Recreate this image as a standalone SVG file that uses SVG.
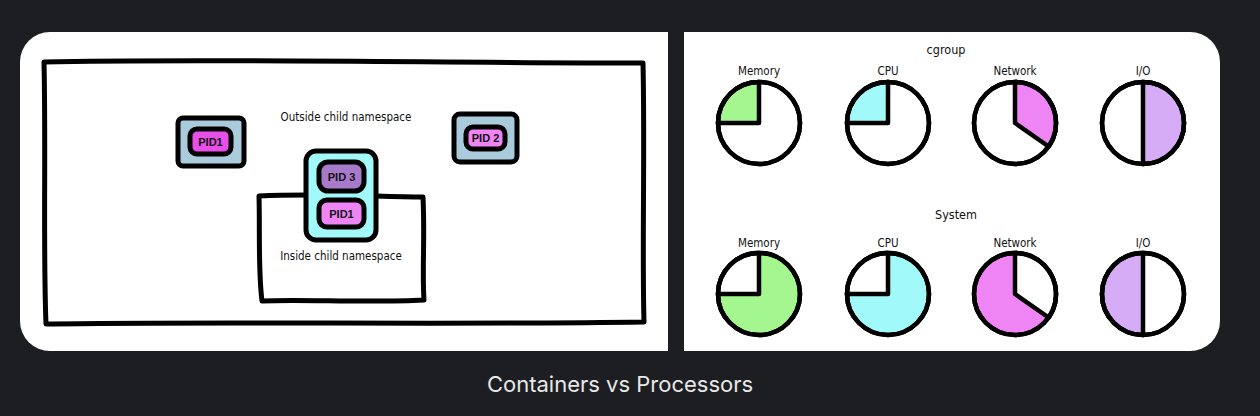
<svg xmlns="http://www.w3.org/2000/svg" width="1260" height="416" viewBox="0 0 1260 416">
<style>
.ink{fill:none;stroke:#000;stroke-width:5;stroke-linejoin:round;stroke-linecap:round}
.pie{stroke:#000;stroke-width:4.5;stroke-linejoin:round;stroke-linecap:round}
.hand{font-family:"DejaVu Sans Condensed","DejaVu Sans",sans-serif;font-stretch:condensed;font-size:11.5px;fill:#111;text-anchor:middle}
.pid{font-family:"Liberation Sans",Arial,sans-serif;font-weight:bold;font-size:11px;fill:#111;text-anchor:middle}
.green{fill:#a4f78f}.cyan{fill:#a2f9f9}.mag{fill:#ef85f5}.purp{fill:#d7acf6}.white{fill:#fff}
</style>
<rect x="0" y="0" width="1260" height="416" fill="#1d1e22"/>
<rect x="20" y="32" width="1200" height="319" rx="30" fill="#fff"/>
<rect x="668" y="30" width="16" height="324" fill="#1d1e22"/>
<text x="620" y="392" font-family="Inter,'Liberation Sans',sans-serif" font-size="22" fill="#e8e8e8" text-anchor="middle">Containers vs Processors</text>

<g id="outside-namespace">
<path class="ink" d="M44,62 C200,58 450,63 643,63 C645,150 642,250 644,322 C450,325 200,321 46,324 C43,250 46,150 44,62 Z"/>
<text class="hand" x="346" y="121">Outside child namespace</text>
</g>
<g id="inside-namespace">
<path class="ink" fill="#fff" d="M259,196 C320,193 380,197 423,197 C425,240 422,270 424,300 C370,303 300,299 262,301 C258,270 260,230 259,196 Z"/>
<text class="hand" x="341" y="260">Inside child namespace</text>
</g>
<g id="pid1-outer">
<rect x="178" y="118" width="66" height="48" rx="5" class="ink" style="fill:#a9cbdc"/>
<rect x="190" y="129" width="41" height="25" rx="7" class="ink" style="fill:#e84ee8"/>
<text class="pid" x="210.5" y="145.5">PID1</text>
</g>
<g id="pid2">
<rect x="454" y="114" width="63" height="48" rx="6" class="ink" style="fill:#a9cbdc"/>
<rect x="466" y="127" width="39" height="22" rx="7" class="ink" style="fill:#ef85f5"/>
<text class="pid" x="485.5" y="142">PID 2</text>
</g>
<g id="container">
<rect x="306" y="151" width="70" height="89" rx="10" class="ink" style="fill:#a2f9f9"/>
<rect x="319" y="162" width="45" height="29" rx="9" class="ink" style="fill:#a77bca"/>
<text class="pid" x="341.5" y="180.5">PID 3</text>
<rect x="319" y="200" width="45" height="27" rx="8" class="ink" style="fill:#ef85f5"/>
<text class="pid" x="341.5" y="217.5">PID1</text>
</g>

<g id="cgroup">
<text class="hand" x="946" y="54" style="font-size:12.5px">cgroup</text>
<g id="cg-memory" transform="translate(759,123)">
<text class="hand" y="-48">Memory</text>
<circle r="41" class="pie white"/>
<path class="pie green" d="M0,0 L0,-41 A41,41 0 0 0 -41,0 Z"/>
<circle r="41" class="pie" fill="none"/>
</g>
<g id="cg-cpu" transform="translate(888,123)">
<text class="hand" y="-48">CPU</text>
<circle r="41" class="pie white"/>
<path class="pie cyan" d="M0,0 L0,-41 A41,41 0 0 0 -41,0 Z"/>
<circle r="41" class="pie" fill="none"/>
</g>
<g id="cg-network" transform="translate(1015,123)">
<text class="hand" y="-48">Network</text>
<circle r="41" class="pie white"/>
<path class="pie mag" d="M0,0 L0,-41 A41,41 0 0 1 33.6,23.5 Z"/>
<circle r="41" class="pie" fill="none"/>
</g>
<g id="cg-io" transform="translate(1143,123)">
<text class="hand" y="-48">I/O</text>
<circle r="41" class="pie white"/>
<path class="pie purp" d="M0,-41 A41,41 0 0 1 0,41 Z"/>
<circle r="41" class="pie" fill="none"/>
</g>
</g>

<g id="system">
<text class="hand" x="956" y="219" style="font-size:12.5px">System</text>
<g id="sys-memory" transform="translate(759,294)">
<text class="hand" y="-47">Memory</text>
<circle r="41" class="pie green"/>
<path class="pie white" d="M0,0 L0,-41 A41,41 0 0 0 -41,0 Z"/>
<circle r="41" class="pie" fill="none"/>
</g>
<g id="sys-cpu" transform="translate(888,294)">
<text class="hand" y="-47">CPU</text>
<circle r="41" class="pie cyan"/>
<path class="pie white" d="M0,0 L0,-41 A41,41 0 0 0 -41,0 Z"/>
<circle r="41" class="pie" fill="none"/>
</g>
<g id="sys-network" transform="translate(1015,294)">
<text class="hand" y="-47">Network</text>
<circle r="41" class="pie mag"/>
<path class="pie white" d="M0,0 L0,-41 A41,41 0 0 1 33.6,23.5 Z"/>
<circle r="41" class="pie" fill="none"/>
</g>
<g id="sys-io" transform="translate(1143,294)">
<text class="hand" y="-47">I/O</text>
<circle r="41" class="pie white"/>
<path class="pie purp" d="M0,-41 A41,41 0 0 0 0,41 Z"/>
<circle r="41" class="pie" fill="none"/>
</g>
</g>
</svg>
